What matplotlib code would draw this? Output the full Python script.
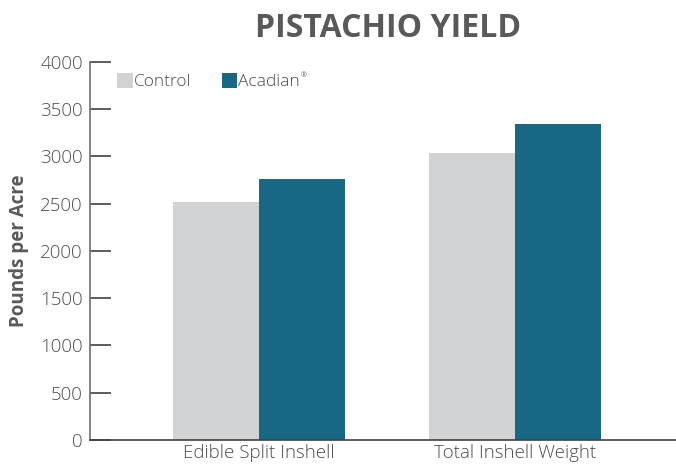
import matplotlib
matplotlib.use("Agg")
import matplotlib.pyplot as plt
import numpy as np

# data
categories = ["Edible Split Inshell", "Total Inshell Weight"]
control = [2515, 3035]
acadian = [2760, 3340]
yticks = [0, 500, 1000, 1500, 2000, 2500, 3000, 3500, 4000]

plt.rcParams['font.family'] = ['Open Sans', 'DejaVu Sans']

fig = plt.figure(figsize=(6.76, 4.68), dpi=100)
ax = fig.add_axes([0.133, 0.06, 0.867, 0.8075])

x = np.arange(len(categories))
w = 0.336
ax.bar(x - w / 2, control, w, color="#d1d2d4", label="Control")
ax.bar(x + w / 2, acadian, w, color="#186884", label="Acadian")

ax.set_xlim(-0.66, 1.629)
ax.set_ylim(0, 4000)
ax.set_yticks(yticks)
ax.set_xticks(x)
ax.set_xticklabels(categories)

for s in ["top", "right"]:
    ax.spines[s].set_visible(False)
ax.spines["left"].set_color("#6d6e71")
ax.spines["bottom"].set_color("#414042")
ax.spines["left"].set_linewidth(1.2)
ax.spines["bottom"].set_linewidth(1.2)

ax.tick_params(axis="y", direction="in", length=15, width=1.2, color="#414042",
               labelsize=13.5, labelcolor="#4d4d4f", pad=5)
ax.tick_params(axis="x", length=0, labelsize=13.5, labelcolor="#4d4d4f", pad=3)
for t in ax.get_xticklabels() + ax.get_yticklabels():
    t.set_fontweight("light")

ax.set_ylabel("Pounds per Acre", fontsize=13.5, fontweight="bold", color="#58595b", labelpad=8)

fig.text(0.574, 0.94, "PISTACHIO YIELD", ha="center", va="center",
         fontsize=23, fontweight="bold", color="#58595b")

leg = ax.legend(loc="upper left", bbox_to_anchor=(0.02, 1.012), ncol=2, frameon=False,
                handlelength=0.9, handleheight=0.9, handletextpad=0.05,
                columnspacing=1.75, labelcolor="#4d4d4f",
                prop={"weight": "light", "size": 12.5})

# small registered mark after "Acadian"
fig.canvas.draw()
bb = leg.get_texts()[1].get_window_extent().transformed(fig.transFigure.inverted())
fig.text(bb.x1 + 0.002, bb.y1 + 0.004, "®", fontsize=5, color="#58595b", va="top")

fig.savefig("out.png", dpi=100)
